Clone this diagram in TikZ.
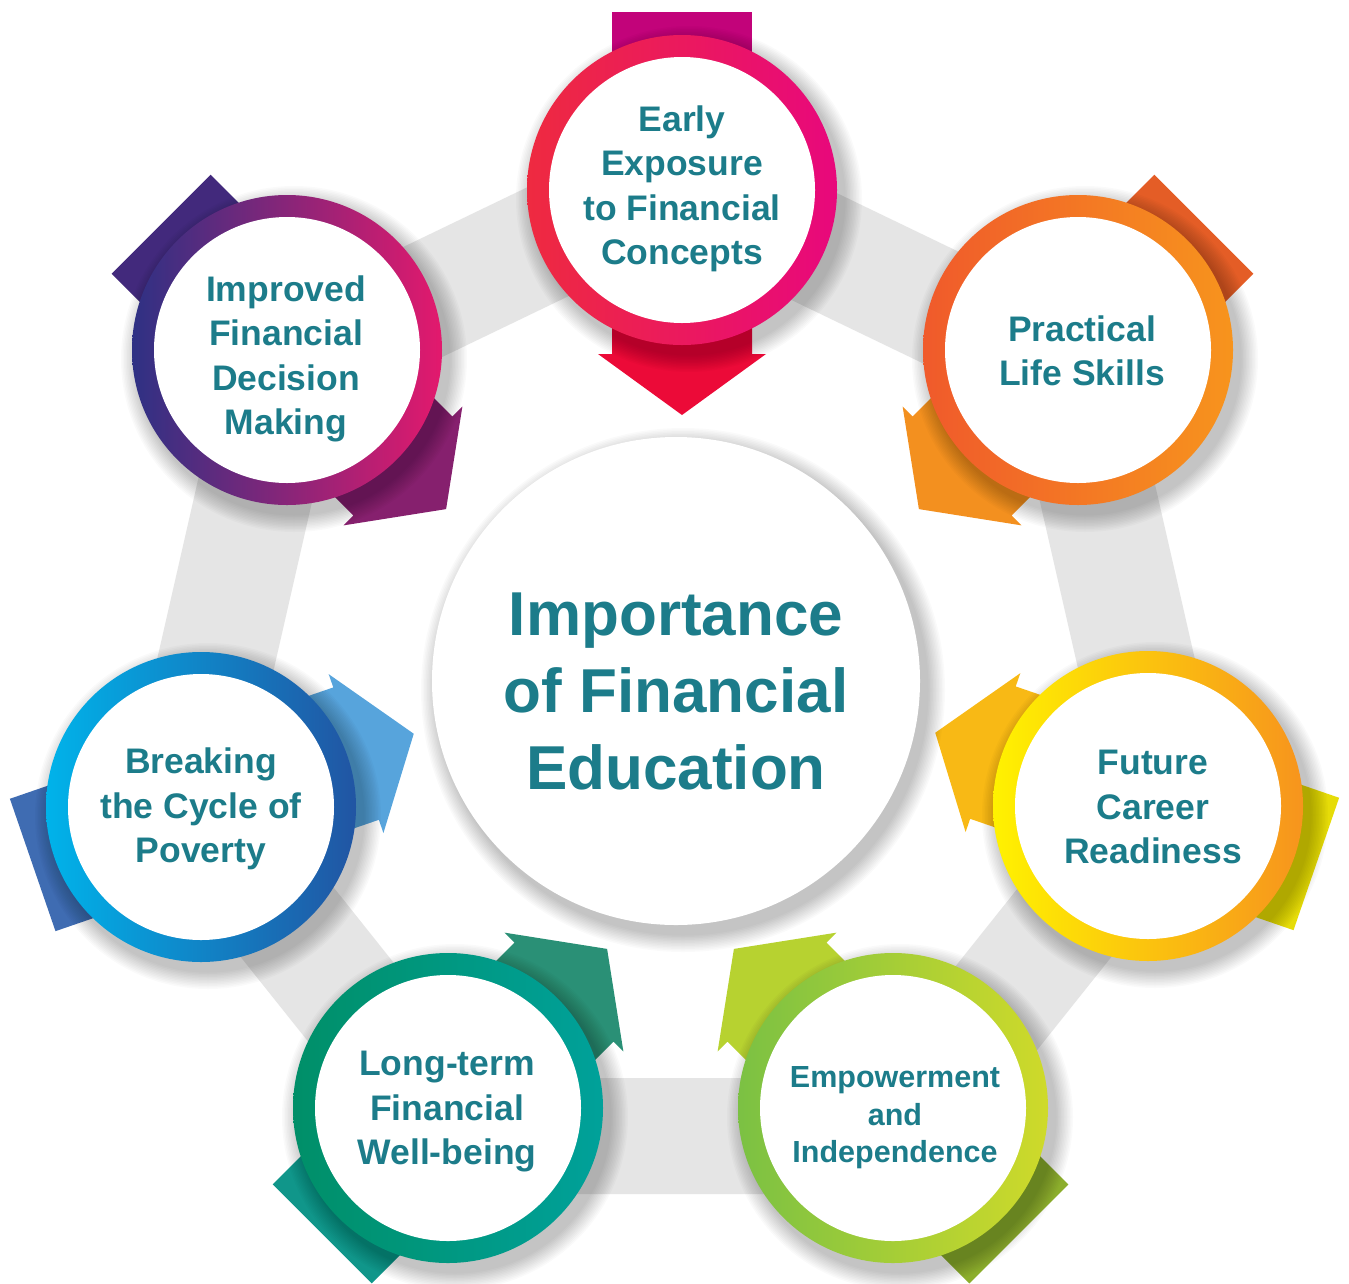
\documentclass[tikz,border=0pt]{standalone}
\usepackage{fontspec}
\setmainfont{Liberation Sans}
\definecolor{txt}{HTML}{1C7C8A}
\definecolor{bandgray}{HTML}{E5E5E5}
% arrows
\definecolor{aT1}{HTML}{C2037A}\definecolor{aH1}{HTML}{EC0A38}
\definecolor{aT2}{HTML}{E45D26}\definecolor{aH2}{HTML}{F3901F}
\definecolor{aT3}{HTML}{E6DC08}\definecolor{aH3}{HTML}{F8B915}
\definecolor{aT4}{HTML}{8CAE2C}\definecolor{aH4}{HTML}{B7D230}
\definecolor{aT5}{HTML}{10968A}\definecolor{aH5}{HTML}{2A9076}
\definecolor{aT6}{HTML}{3F6CB2}\definecolor{aH6}{HTML}{57A4DC}
\definecolor{aT7}{HTML}{42297C}\definecolor{aH7}{HTML}{86206E}
% rings
\definecolor{rL1}{HTML}{EE2A40}\definecolor{rR1}{HTML}{E8087C}
\definecolor{rL2}{HTML}{F05A2B}\definecolor{rR2}{HTML}{F7941D}
\definecolor{rL3}{HTML}{FFF200}\definecolor{rR3}{HTML}{F7941D}
\definecolor{rL4}{HTML}{7BC143}\definecolor{rR4}{HTML}{CFDA2A}
\definecolor{rL5}{HTML}{008F68}\definecolor{rR5}{HTML}{00A19A}
\definecolor{rL6}{HTML}{00B3EA}\definecolor{rR6}{HTML}{2155A3}
\definecolor{rL7}{HTML}{2E3184}\definecolor{rR7}{HTML}{E3196D}

\tikzset{
  lbl/.style={align=center, text=txt, inner sep=0pt,
    font=\bfseries\fontsize{35.5}{44.5}\selectfont},
  smalllbl/.style={align=center, text=txt, inner sep=0pt,
    font=\bfseries\fontsize{30.5}{37.5}\selectfont},
  hole/.style={circle, fill=white, minimum size=266pt, inner sep=0pt},
  ring/.style 2 args={circle, minimum size=310pt, inner sep=0pt,
    left color=#1, right color=#2},
  band/.style={line width=116pt, draw=bandgray, line join=miter},
}

\newcommand{\softshadow}[3]{%
  \foreach \k in {0,...,11}{%
    \fill[black,opacity=0.018] (#1+7,#2+9) circle ({#3+18-1.5*\k});}}

\newcommand{\bigarrow}[5]{%
  \begin{scope}[shift={(#1,#2)},rotate=-#3]
    \fill[#4] (-178,-70) rectangle (0,70);
    \fill[#5] (-1,-70) -- (164,-70) -- (164,-84) -- (225,0) -- (164,84)
      -- (164,70) -- (-1,70) -- cycle;
  \end{scope}}

\begin{document}
\begin{tikzpicture}[x=1pt,y=-1pt]
  \fill[white] (0,0) rectangle (1349,1283);
  \useasboundingbox (0,0) rectangle (1349,1283);

  % heptagonal band
  \draw[band, shift={(676,683)}] (-90:503) -- (-38.571:503) -- (12.857:503)
     -- (64.286:503) -- (115.714:503) -- (167.143:503) -- (218.571:503) -- cycle;

  % arrows behind the circles
  \bigarrow{682}{190}{90}{aT1}{aH1}
  \bigarrow{1078}{350}{135}{aT2}{aH2}
  \bigarrow{1148}{806}{199}{aT3}{aH3}
  \bigarrow{893}{1108}{225}{aT4}{aH4}
  \bigarrow{448}{1108}{315}{aT5}{aH5}
  \bigarrow{201}{807}{341}{aT6}{aH6}
  \bigarrow{287}{350}{45}{aT7}{aH7}

  % soft shadows
  \softshadow{682}{190}{155}
  \softshadow{1078}{350}{155}
  \softshadow{1148}{806}{155}
  \softshadow{893}{1108}{155}
  \softshadow{448}{1108}{155}
  \softshadow{201}{807}{155}
  \softshadow{287}{350}{155}
  \softshadow{676}{681}{244}

  % centre
  \node[circle, fill=white, minimum size=488pt, inner sep=0pt] (hub) at (676,681) {};
  \node[align=center, text=txt, inner sep=0pt,
        font=\bfseries\fontsize{62}{77}\selectfont] (hubtxt) at (676,691)
        {Importance\\of Financial\\Education};

  % rings
  \node[ring={rL1}{rR1}] (r1) at (682,190) {};
  \node[ring={rL2}{rR2}] (r2) at (1078,350) {};
  \node[ring={rL3}{rR3}] (r3) at (1148,806) {};
  \node[ring={rL4}{rR4}] (r4) at (893,1108) {};
  \node[ring={rL5}{rR5}] (r5) at (448,1108) {};
  \node[ring={rL6}{rR6}] (r6) at (201,807) {};
  \node[ring={rL7}{rR7}] (r7) at (287,350) {};

  \node[hole] (h1) at (r1) {};
  \node[hole] (h2) at (r2) {};
  \node[hole] (h3) at (r3) {};
  \node[hole] (h4) at (r4) {};
  \node[hole] (h5) at (r5) {};
  \node[hole] (h6) at (r6) {};
  \node[hole] (h7) at (r7) {};

  % labels
  \node[lbl] (t1) at (682,189) {Early\\Exposure\\to Financial\\Concepts};
  \node[lbl] (t2) at (1082,351) {Practical\\Life Skills};
  \node[lbl] (t3) at (1153,807) {Future\\Career\\Readiness};
  \node[smalllbl] (t4) at (895,1118) {Empowerment\\and\\Independence};
  \node[lbl] (t5) at (447,1112) {Long-term\\Financial\\Well-being};
  \node[lbl] (t6) at (201,809) {Breaking\\the Cycle of\\Poverty};
  \node[lbl] (t7) at (286,359) {Improved\\Financial\\Decision\\Making};
\end{tikzpicture}
\end{document}
